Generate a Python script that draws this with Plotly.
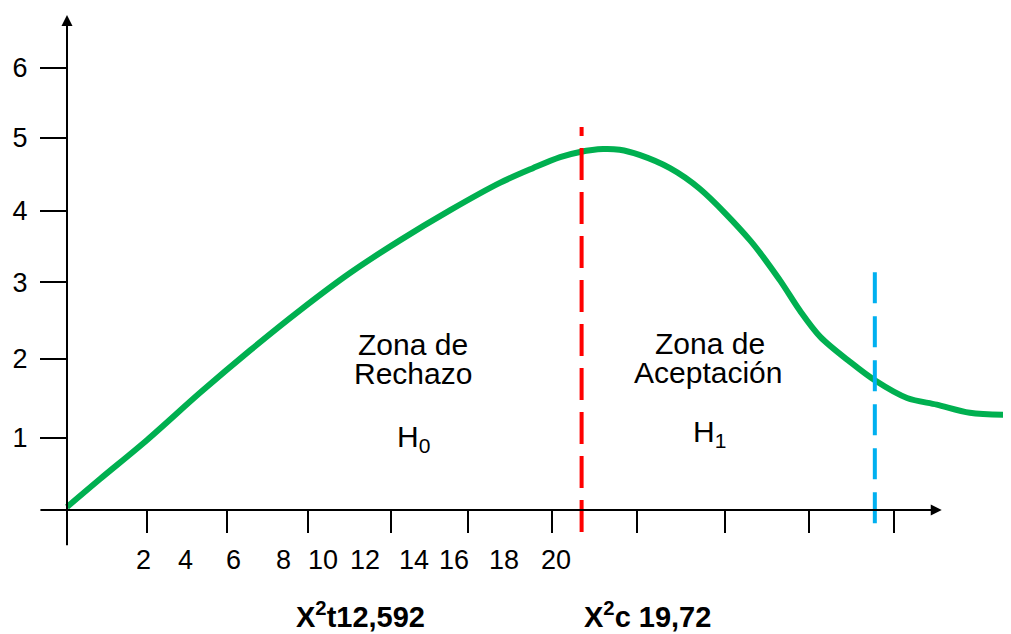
import plotly.graph_objects as go

# ---- data (chart units) ----
curve_x = [0, 0.40, 0.97, 1.61, 2.22, 2.82, 3.43, 4.03, 4.64, 5.24, 5.64, 5.97, 6.21,
           6.49, 6.69, 6.93, 7.30, 7.66, 8.27, 8.63, 8.87, 9.12, 9.48, 9.78,
           10.17, 10.53, 10.93, 11.42]
curve_y = [0.04, 0.42, 0.95, 1.59, 2.17, 2.71, 3.22, 3.66, 4.07, 4.44, 4.64, 4.79, 4.86,
           4.90, 4.89, 4.82, 4.64, 4.36, 3.66, 3.12, 2.71, 2.35, 2.01, 1.76,
           1.52, 1.43, 1.32, 1.29]

critical_x = 6.23          # red dashed boundary
critical_y = [-0.30, 5.20]
observed_x = 9.78          # blue dashed line
observed_y = [-0.18, 3.23]

x_tick_vals = [0.97, 1.94, 2.92, 3.92, 4.85, 5.87, 6.90, 7.97, 8.98, 10.01]
x_label_pos = [0.93, 1.43, 2.01, 2.62, 3.10, 3.61, 4.20, 4.69, 5.29, 5.92]
x_label_text = ["2", "4", "6", "8", "10", "12", "14", "16", "18", "20"]
y_tick_vals = [0.98, 2.05, 3.09, 4.06, 5.05, 6.0]
y_tick_text = ["1", "2", "3", "4", "5", "6"]

bottom_labels = ["<b>X<sup>2</sup>t12,592</b>", "<b>X<sup>2</sup>c 19,72</b>"]

# ---- figure ----
W, H = 1003, 626          # page body has an 8px margin
PX_X, PX_Y = 82.6, 73.67  # pixels per unit
ORIG_X, ORIG_Y = 59, 502  # origin position inside the plot div
XR = [-ORIG_X / PX_X, (W - ORIG_X) / PX_X]
YR = [-(H - ORIG_Y) / PX_Y, ORIG_Y / PX_Y]
FONT = "Liberation Sans, Arial, sans-serif"

fig = go.Figure()
fig.add_trace(go.Scatter(x=curve_x, y=curve_y, mode="lines",
                         line=dict(color="#00B050", width=6, shape="spline", smoothing=0.9),
                         hoverinfo="skip", showlegend=False))

fig.add_shape(type="line", x0=critical_x, x1=critical_x, y0=critical_y[0], y1=critical_y[1],
              line=dict(color="#FF0000", width=4, dash="32px,12px"))
fig.add_shape(type="line", x0=observed_x, x1=observed_x, y0=observed_y[0], y1=observed_y[1],
              line=dict(color="#00B0F0", width=4, dash="31px,13px"))

# axis lines with arrows
fig.add_annotation(x=10.59, y=0, ax=-0.34, ay=0, xref="x", yref="y", axref="x", ayref="y",
                   text="", showarrow=True, arrowhead=2, arrowsize=1.1, arrowwidth=2,
                   arrowcolor="black")
fig.add_annotation(x=0, y=6.72, ax=0, ay=-0.50, xref="x", yref="y", axref="x", ayref="y",
                   text="", showarrow=True, arrowhead=2, arrowsize=1.1, arrowwidth=2,
                   arrowcolor="black")

# x tick labels (irregular placement)
for xp, t in zip(x_label_pos, x_label_text):
    fig.add_annotation(x=xp, y=-0.68, xref="x", yref="y", text=t, showarrow=False,
                       font=dict(family=FONT, size=27, color="black"))

# zone texts
txt = dict(family=FONT, size=30, color="black")
fig.add_annotation(x=4.19, y=2.25, text="Zona de", showarrow=False, font=txt)
fig.add_annotation(x=4.19, y=1.85, text="Rechazo", showarrow=False, font=txt)
fig.add_annotation(x=4.19, y=0.97, text="H<sub>0</sub>", showarrow=False, font=txt)
fig.add_annotation(x=7.78, y=2.26, text="Zona de", showarrow=False, font=txt)
fig.add_annotation(x=7.76, y=1.86, text="Aceptación", showarrow=False, font=txt)
fig.add_annotation(x=7.78, y=1.04, text="H<sub>1</sub>", showarrow=False, font=txt)

for xp, t in zip([3.55, 7.03], bottom_labels):
    fig.add_annotation(x=xp, y=-1.42, text=t, showarrow=False,
                       font=dict(family=FONT, size=29, color="black"))

ypos = (0 - YR[0]) / (YR[1] - YR[0])
xpos = (0 - XR[0]) / (XR[1] - XR[0])

fig.update_layout(
    width=W, height=H,
    margin=dict(l=0, r=0, t=0, b=0, pad=0),
    paper_bgcolor="white", plot_bgcolor="white",
    showlegend=False,
    xaxis=dict(range=XR, showgrid=False, zeroline=False, showline=False,
               anchor="free", position=ypos,
               tickmode="array", tickvals=x_tick_vals, ticks="outside", ticklen=22,
               tickwidth=2, tickcolor="black", showticklabels=False, fixedrange=True),
    yaxis=dict(range=YR, showgrid=False, zeroline=False, showline=False,
               anchor="free", position=xpos,
               tickmode="array", tickvals=y_tick_vals, ticktext=y_tick_text,
               ticks="outside", ticklen=27, tickwidth=2, tickcolor="black",
               ticklabelstandoff=7,
               tickfont=dict(family=FONT, size=27, color="black"), fixedrange=True),
)

fig.write_html("out.html")
